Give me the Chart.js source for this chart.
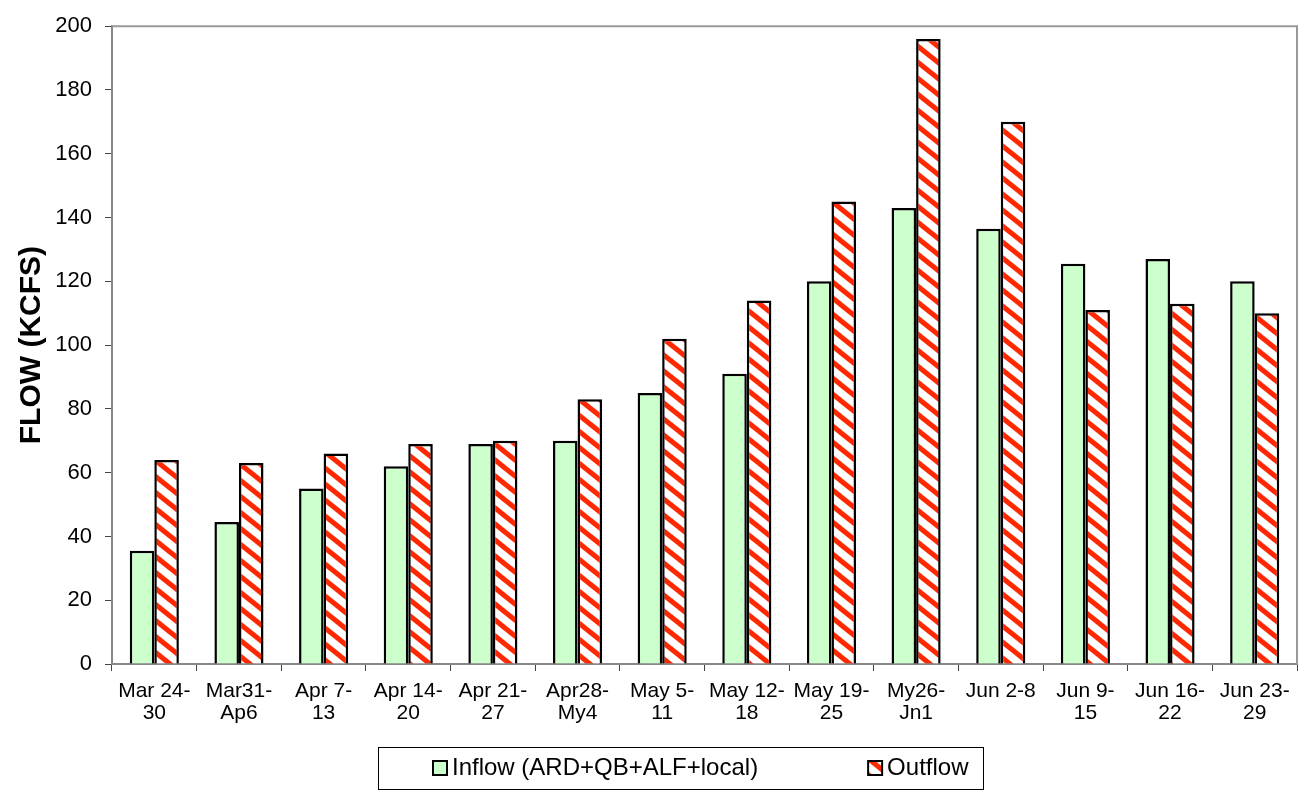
<!DOCTYPE html>
<html>
<head>
<meta charset="utf-8">
<script src="https://cdn.jsdelivr.net/npm/chart.js@4/dist/chart.umd.min.js"></script>
<style>
  body { margin: 0; background: #fff; }
  canvas { display: block; }
</style>
</head>
<body>
<canvas id="chart" width="1307" height="794"></canvas>
<script>
var weeks = [
  ["Mar 24-", "30"], ["Mar31-", "Ap6"], ["Apr 7-", "13"], ["Apr 14-", "20"],
  ["Apr 21-", "27"], ["Apr28-", "My4"], ["May 5-", "11"], ["May 12-", "18"],
  ["May 19-", "25"], ["My26-", "Jn1"], "Jun 2-8", ["Jun 9-", "15"],
  ["Jun 16-", "22"], ["Jun 23-", "29"]
];
var inflow = [35.5, 44.5, 55, 62, 69, 70, 85, 91, 120, 143, 136.5, 125.5, 127, 120];
var outflow = [64, 63, 66, 69, 70, 83, 102, 114, 145, 196, 170, 111, 113, 110];
var seriesNames = ["Inflow (ARD+QB+ALF+local)", "Outflow"];
var yTicks = { min: 0, max: 200, step: 20 };

var FONT = "'Liberation Sans', Arial, sans-serif";

// red diagonal hatch like the excel fill
function stripes() {
  var c = document.createElement("canvas");
  c.width = 20;
  c.height = 16;
  var g = c.getContext("2d");
  g.fillStyle = "#fff";
  g.fillRect(0, 0, 20, 16);
  g.strokeStyle = "rgb(255,40,0)";
  g.lineWidth = 5;
  [-20, 0, 20].forEach(function (dx) {
    g.beginPath();
    g.moveTo(dx - 20, -16);
    g.lineTo(dx + 40, 32);
    g.stroke();
  });
  return g.createPattern(c, "repeat");
}

var frame = {
  id: "frame",
  afterDraw: function (chart) {
    var ctx = chart.ctx;
    var a = chart.chartArea;
    ctx.save();
    // top + right plot border
    ctx.strokeStyle = "#999";
    ctx.lineWidth = 2;
    ctx.beginPath();
    ctx.moveTo(a.left, a.top);
    ctx.lineTo(a.right, a.top);
    ctx.lineTo(a.right, a.bottom);
    ctx.stroke();

    // legend box
    ctx.strokeStyle = "#000";
    ctx.lineWidth = 1;
    ctx.strokeRect(378.5, 747.5, 605, 42);
    ctx.font = "24px " + FONT;
    ctx.textBaseline = "middle";
    var x = 433;
    chart.data.datasets.forEach(function (ds) {
      ctx.fillStyle = ds.backgroundColor;
      ctx.fillRect(x, 761, 14, 14);
      ctx.strokeStyle = "#000";
      ctx.lineWidth = 2;
      ctx.strokeRect(x, 761, 14, 14);
      ctx.fillStyle = "#000";
      ctx.fillText(ds.label, x + 19, 768);
      x += 19 + ctx.measureText(ds.label).width + 110;
    });
    ctx.restore();
  },
};

var ctx = document.getElementById("chart").getContext("2d");
new Chart(ctx, {
  type: "bar",
  data: {
    labels: weeks,
    datasets: [
      {
        label: seriesNames[0],
        data: inflow,
        backgroundColor: "#CCFFCC",
        borderColor: "#000",
        borderWidth: 2.5,
      },
      {
        label: seriesNames[1],
        data: outflow,
        backgroundColor: stripes(),
        borderColor: "#000",
        borderWidth: 2.5,
      },
    ],
  },
  options: {
    responsive: false,
    animation: false,
    devicePixelRatio: 1,
    categoryPercentage: 0.58,
    barPercentage: 1.0,
    layout: { padding: { top: 16, right: 10, bottom: 0, left: 0 } },
    plugins: {
      legend: { display: false },
      tooltip: { enabled: false },
    },
    scales: {
      x: {
        afterFit: function (s) { s.height = 130; },
        grid: {
          display: true,
          offset: true,
          drawOnChartArea: false,
          drawTicks: true,
          tickLength: 7,
          tickColor: "#444",
        },
        border: { display: true, color: "#888", width: 2 },
        ticks: {
          color: "#000",
          padding: 9,
          maxRotation: 0,
          autoSkip: false,
          font: { family: FONT, size: 21, lineHeight: 1.05 },
        },
      },
      y: {
        min: yTicks.min,
        max: yTicks.max,
        afterFit: function (s) { s.width = 112; },
        grid: {
          drawOnChartArea: false,
          drawTicks: true,
          tickLength: 7,
          tickColor: "#444",
        },
        border: { display: true, color: "#888", width: 2 },
        ticks: {
          stepSize: yTicks.step,
          color: "#000",
          padding: 13,
          font: { family: FONT, size: 22 },
        },
        title: {
          display: true,
          text: "FLOW (KCFS)",
          color: "#000",
          padding: { top: 14, bottom: 0 },
          font: { family: FONT, size: 30, weight: "bold" },
        },
      },
    },
  },
  plugins: [frame],
});
</script>
</body>
</html>
